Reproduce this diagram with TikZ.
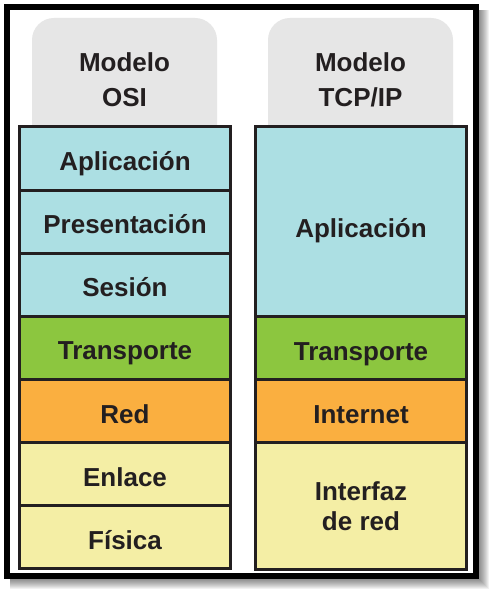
\documentclass[tikz,border=0pt]{standalone}
\usepackage{fontspec}
\setmainfont{Liberation Sans}
\definecolor{lblue}{HTML}{ACDFE3}
\definecolor{lgreen}{HTML}{8CC63F}
\definecolor{lorange}{HTML}{FAAF40}
\definecolor{lyellow}{HTML}{F4EEA5}
\definecolor{hgray}{HTML}{E6E6E6}
\definecolor{linec}{HTML}{231F20}
\tikzset{
  layer/.style={draw=linec, line width=3pt, minimum width=211pt, minimum height=63.14pt,
    inner sep=0pt, outer sep=0pt, anchor=north, text=linec, align=center,
    font=\fontsize{26}{30}\selectfont\bfseries},
  lone/.style={layer, text height=29pt, text depth=5pt},
  headtext/.style={text=linec, align=center, inner sep=0pt,
    font=\fontsize{26}{35}\selectfont\bfseries},
  headbox/.style={fill=hgray, rounded corners=22pt},
}
\begin{document}
\begin{tikzpicture}[x=1pt,y=-1pt]
\useasboundingbox (0,0) rectangle (492,593);
% shadow
\foreach \k in {1,...,10}{
  \fill[black, opacity=0.055] (10,10) rectangle (479+\k,579+\k);
}
% frame
\fill[white] (4,4) rectangle (479,579);
\draw[black, line width=6pt] (7,7) rectangle (476,576);
% headers
\fill[headbox] (32,18) rectangle (217,160);
\fill[headbox] (268,18) rectangle (453,160);
\node[headtext] (hosi) at (124.5,79.5) {Modelo\\OSI};
\node[headtext] (htcp) at (360.5,79.5) {Modelo\\TCP/IP};
% OSI column
\node[lone, fill=lblue] (o7) at (125,127) {Aplicación};
\node[lone, fill=lblue] (o6) at (o7.south) {Presentación};
\node[lone, fill=lblue] (o5) at (o6.south) {Sesión};
\node[lone, fill=lgreen] (o4) at (o5.south) {Transporte};
\node[lone, fill=lorange] (o3) at (o4.south) {Red};
\node[lone, fill=lyellow] (o2) at (o3.south) {Enlace};
\node[lone, fill=lyellow] (o1) at (o2.south) {Física};
% TCP/IP column
\node[lone, fill=lblue, minimum height=189.43pt, text height=36pt] (t4) at (361,127) {Aplicación};
\node[lone, fill=lgreen] (t3) at (t4.south) {Transporte};
\node[lone, fill=lorange] (t2) at (t3.south) {Internet};
\node[layer, fill=lyellow, minimum height=126.29pt] (t1) at (t2.south) {Interfaz\\de red};
% outer borders redrawn on top
\draw[linec, line width=3pt] (o7.north west) rectangle (o1.south east);
\draw[linec, line width=3pt] (t4.north west) rectangle (t1.south east);
\end{tikzpicture}
\end{document}
